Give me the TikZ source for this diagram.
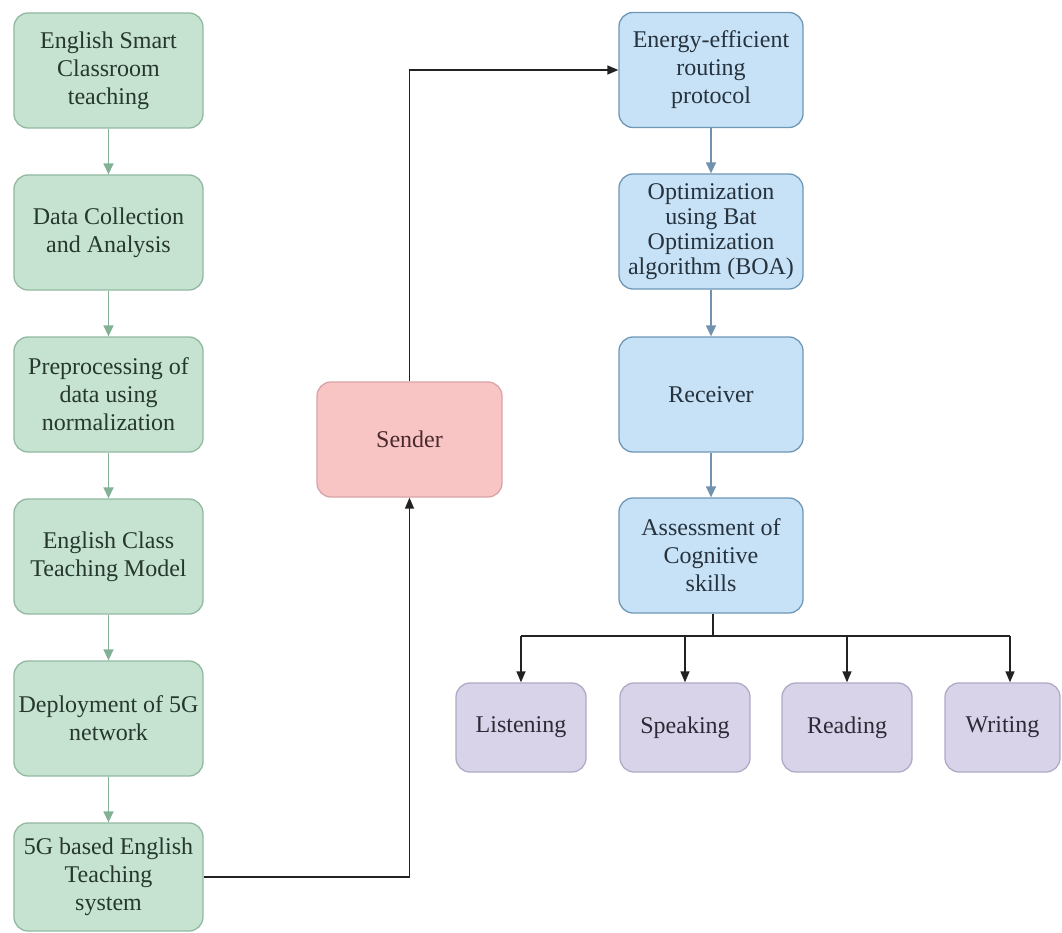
\documentclass[tikz,border=0pt]{standalone}
\usepackage{fontspec}
\setmainfont{Liberation Serif}
\usetikzlibrary{arrows.meta}
\definecolor{gfill}{HTML}{C5E3D0}
\definecolor{gdraw}{HTML}{93B8A2}
\definecolor{garrow}{HTML}{82B196}
\definecolor{gtext}{HTML}{26382D}
\definecolor{bfill}{HTML}{C7E2F6}
\definecolor{bdraw}{HTML}{6E98B6}
\definecolor{barrow}{HTML}{7192AE}
\definecolor{btext}{HTML}{26323D}
\definecolor{pfill}{HTML}{F8C4C4}
\definecolor{pdraw}{HTML}{D8A4A8}
\definecolor{ptext}{HTML}{4A2A2C}
\definecolor{vfill}{HTML}{D8D3E8}
\definecolor{vdraw}{HTML}{B0AAC6}
\definecolor{vtext}{HTML}{2C2A36}
\definecolor{mainline}{HTML}{222222}
\tikzset{
  box/.style={rectangle, rounded corners=14pt, line width=1.3pt, inner sep=0pt, align=center,
    font=\fontsize{24}{28}\selectfont},
  gbox/.style={box, fill=gfill, draw=gdraw, text=gtext, minimum width=189pt, minimum height=115pt},
  bbox/.style={box, fill=bfill, draw=bdraw, text=btext, minimum width=184pt, minimum height=115pt},
  sbox/.style={box, fill=pfill, draw=pdraw, text=ptext, minimum width=185pt, minimum height=115pt},
  vbox/.style={box, fill=vfill, draw=vdraw, text=vtext, minimum width=130pt, minimum height=89pt},
  garr/.style={draw=garrow, line width=1.4pt, -{Triangle[length=11pt,width=10pt]}},
  barr/.style={draw=barrow, line width=1.4pt, -{Triangle[length=11pt,width=10pt]}},
  karr/.style={draw=mainline, line width=1.4pt, -{Triangle[length=11pt,width=9pt]}},
  kline/.style={draw=mainline, line width=1.4pt}
}
\begin{document}
\begin{tikzpicture}[x=1pt,y=-1pt]
\useasboundingbox[fill=white] (0,0) rectangle (1062,933);
% green column
\node[gbox] (g1) at (108.5,70.5) {English Smart\\Classroom\\teaching};
\node[gbox] (g2) at (108.5,232.5) {Data Collection\\and Analysis};
\node[gbox] (g3) at (108.5,394.5) {Preprocessing of\\data using\\normalization};
\node[gbox] (g4) at (108.5,556.5) {English Class\\Teaching Model};
\node[gbox] (g5) at (108.5,718.5) {Deployment of 5G\\network};
\node[gbox, minimum height=108pt] (g6) at (108.5,877) {5G based English\\Teaching\\system};
% sender
\node[sbox] (s) at (409.5,439.5) {Sender};
% blue column
\node[bbox] (b1) at (711,70) {Energy-efficient\\routing\\protocol};
\node[bbox, font=\fontsize{24}{25}\selectfont] (b2) at (711,231.5) {Optimization\\using Bat\\Optimization\\algorithm (BOA)};
\node[bbox] (b3) at (711,394.5) {Receiver};
\node[bbox] (b4) at (711,555.5) {Assessment of\\Cognitive\\skills};
% skills
\node[vbox] (v1) at (521,727.5) {Listening};
\node[vbox] (v2) at (685,727.5) {Speaking};
\node[vbox] (v3) at (847,727.5) {Reading};
\node[vbox, minimum width=115pt] (v4) at (1002.5,727.5) {Writing};
% green arrows
\draw[garr] (g1) -- (g2);
\draw[garr] (g2) -- (g3);
\draw[garr] (g3) -- (g4);
\draw[garr] (g4) -- (g5);
\draw[garr] (g5) -- (g6);
% blue arrows
\draw[barr] (b1) -- (b2);
\draw[barr] (b2) -- (b3);
\draw[barr] (b3) -- (b4);
% main connections
\draw[karr] (g6.east) -| (s.south);
\draw[karr] (s.north) |- (b1.west);
% bus
\coordinate (bus) at (713,636);
\coordinate (c1) at (521,636);
\coordinate (c4) at (1010,636);
\draw[kline] (b4.south -| bus) -- (bus);
\draw[kline] (c1) -- (c4);
\draw[karr] (c1) -- (v1.north);
\draw[karr] (c1 -| v2.north) -- (v2.north);
\draw[karr] (c1 -| v3.north) -- (v3.north);
\draw[karr] (c4) -- (c4 |- v4.north);
\end{tikzpicture}
\end{document}
